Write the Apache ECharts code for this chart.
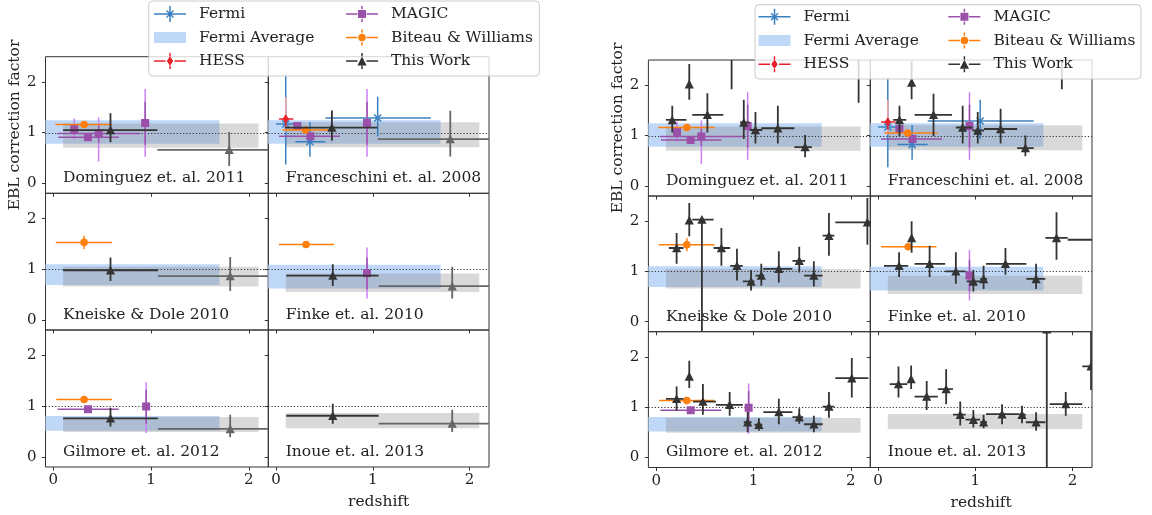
<!DOCTYPE html>
<html>
<head>
<meta charset="utf-8">
<script src="https://cdn.jsdelivr.net/npm/echarts@6/dist/echarts.min.js"></script>
<style>
html, body { margin: 0; padding: 0; background: #fff; }
#chart { width: 1152px; height: 515px; }
</style>
</head>
<body>
<div id="chart"></div>
<script>
const panelNames = ['Dominguez et. al. 2011', 'Franceschini et. al. 2008', 'Kneiske & Dole 2010',
  'Finke et. al. 2010', 'Gilmore et. al. 2012', 'Inoue et. al. 2013']

// shaded bands: [ylo, yhi] per panel, spanning the redshift ranges below
const fermiAvgZ = [-0.2, 1.70]
const fermiAvgBand = [[0.78, 1.245], [0.78, 1.245], [0.69, 1.10], [0.62, 1.09], [0.515, 0.805], null]
const thisWorkZ = [0.10, 2.10]
const thisWorkBand = [[0.70, 1.18], [0.71, 1.205], [0.66, 1.05], [0.55, 0.915], [0.49, 0.785], [0.565, 0.865]]

// points: [z, zlo, zhi, y, ylo, yhi] (MAGIC / HESS add the outer error [ylo2, yhi2])
const fermiPts = [[0.10, 0.0, 0.20, 1.17, 0.37, 2.15], [0.35, 0.20, 0.51, 0.82, 0.52, 1.21], [1.05, 0.51, 1.60, 1.29, 0.93, 1.71]]
const hessPts = [[0.10, 0.03, 0.18, 1.27, 1.12, 1.35, 1.02, 1.70]]
const magicPts = [
  [[0.214, 0.19, 0.24, 1.07, 0.96, 1.17, 0.87, 1.28], [0.354, 0.05, 0.67, 0.91, 0.88, 0.95, 0.86, 0.96],
    [0.464, 0.04, 0.89, 0.98, 0.80, 1.14, 0.43, 1.30], [0.94, 0.93, 0.95, 1.19, 0.76, 1.61, 0.52, 1.86]],
  [[0.22, 0.20, 0.24, 1.13, 1.08, 1.18, 1.06, 1.20], [0.355, 0.03, 0.66, 0.93, 0.89, 0.98, 0.88, 0.99],
    [0.94, 0.93, 0.95, 1.19, 0.76, 1.61, 0.52, 1.86]],
  [],
  [[0.94, 0.93, 0.95, 0.92, 0.60, 1.23, 0.42, 1.43]],
  [[0.355, 0.043, 0.67, 0.94, 0.91, 0.97, 0.90, 0.98], [0.95, 0.94, 0.96, 0.99, 0.65, 1.32, 0.47, 1.47]],
  []
]
const biteauPts = [
  [[0.315, 0.02, 0.60, 1.16, 1.13, 1.19]],
  [[0.305, 0.065, 0.61, 1.05, 1.02, 1.08]],
  [[0.315, 0.025, 0.60, 1.53, 1.40, 1.66]],
  [[0.31, 0.03, 0.60, 1.49, 1.46, 1.52]],
  [[0.315, 0.03, 0.60, 1.13, 1.10, 1.16]],
  []
]
// left figure: two wide redshift bins
const thisWorkWide = [
  [[0.585, 0.10, 1.065, 1.05, 0.81, 1.38], [1.80, 1.065, 2.60, 0.66, 0.34, 1.01]],
  [[0.577, 0.09, 1.05, 1.10, 0.84, 1.435], [1.80, 1.05, 2.60, 0.87, 0.525, 1.43]],
  [[0.585, 0.10, 1.07, 0.98, 0.77, 1.23], [1.81, 1.07, 2.60, 0.865, 0.57, 1.24]],
  [[0.586, 0.106, 1.06, 0.875, 0.67, 1.10], [1.82, 1.06, 2.60, 0.665, 0.42, 1.05]],
  [[0.585, 0.10, 1.07, 0.76, 0.60, 0.97], [1.81, 1.07, 2.60, 0.55, 0.385, 0.83]],
  [[0.586, 0.106, 1.06, 0.81, 0.65, 1.045], [1.82, 1.06, 2.60, 0.655, 0.49, 0.93]]
]
const thisWorkWideShades = ['#333333', '#666666']
// right figure: fine redshift bins
const thisWorkFine = [
  [[0.165, 0.10, 0.31, 1.31, 1.06, 1.59], [0.34, 0.33, 0.35, 2.02, 1.71, 2.42], [0.526, 0.37, 0.69, 1.41, 1.06, 1.84],
    [0.775, 0.76, 0.79, 2.90, 1.92, 3.50], [0.90, 0.86, 0.96, 1.26, 0.93, 1.71], [1.02, 0.96, 1.09, 1.11, 0.84, 1.47],
    [1.25, 1.08, 1.42, 1.145, 0.84, 1.59], [1.53, 1.42, 1.60, 0.77, 0.57, 1.01], [2.08, 2.05, 2.11, 2.70, 1.65, 3.20]],
  [[0.22, 0.155, 0.29, 1.31, 0.99, 1.59], [0.345, 0.33, 0.36, 2.05, 1.72, 2.47], [0.57, 0.375, 0.76, 1.41, 0.99, 1.83],
    [0.87, 0.80, 0.97, 1.16, 0.84, 1.59], [1.025, 0.97, 1.09, 1.10, 0.84, 1.47], [1.26, 1.09, 1.43, 1.13, 0.84, 1.53],
    [1.515, 1.43, 1.60, 0.75, 0.59, 1.00], [1.89, 1.85, 1.93, 2.70, 1.92, 3.20]],
  [[0.21, 0.13, 0.28, 1.465, 1.15, 1.765], [0.34, 0.33, 0.35, 2.015, 1.70, 2.36], [0.47, 0.37, 0.59, 2.03, -0.60, 2.05],
    [0.67, 0.59, 0.76, 1.465, 1.11, 1.865], [0.83, 0.76, 0.89, 1.11, 0.82, 1.45], [0.975, 0.89, 1.01, 0.80, 0.62, 1.03],
    [1.08, 1.02, 1.11, 0.915, 0.715, 1.15], [1.26, 1.10, 1.40, 1.05, 0.78, 1.40], [1.47, 1.40, 1.53, 1.21, 0.98, 1.49],
    [1.62, 1.52, 1.71, 0.915, 0.70, 1.20], [1.775, 1.71, 1.83, 1.71, 1.31, 2.16], [2.17, 1.84, 2.50, 1.975, 1.53, 2.46]],
  [[0.216, 0.06, 0.31, 1.11, 0.89, 1.38], [0.345, 0.33, 0.36, 1.665, 1.37, 2.00], [0.53, 0.375, 0.69, 1.15, 0.89, 1.51],
    [0.80, 0.69, 0.90, 1.00, 0.755, 1.38], [0.98, 0.91, 1.05, 0.80, 0.60, 1.03], [1.085, 1.05, 1.12, 0.85, 0.65, 1.11],
    [1.31, 1.11, 1.525, 1.15, 0.935, 1.465], [1.625, 1.525, 1.72, 0.85, 0.65, 1.15], [1.835, 1.72, 1.95, 1.665, 1.23, 2.175],
    [2.30, 1.95, 2.60, 1.63, 1.30, 2.00]],
  [[0.21, 0.10, 0.28, 1.165, 0.93, 1.41], [0.34, 0.33, 0.35, 1.61, 1.38, 1.92], [0.48, 0.378, 0.614, 1.11, 0.85, 1.46],
    [0.755, 0.614, 0.89, 1.045, 0.83, 1.30], [0.94, 0.90, 0.98, 0.70, 0.50, 0.91], [1.055, 1.01, 1.09, 0.65, 0.53, 0.78],
    [1.26, 1.10, 1.40, 0.90, 0.66, 1.165], [1.47, 1.40, 1.51, 0.80, 0.67, 0.98], [1.62, 1.52, 1.71, 0.66, 0.50, 0.83],
    [1.775, 1.71, 1.83, 1.01, 0.79, 1.30], [2.01, 1.84, 2.18, 1.575, 1.19, 1.975]],
  [[0.21, 0.12, 0.30, 1.457, 1.19, 1.81], [0.34, 0.32, 0.36, 1.56, 1.36, 1.83], [0.50, 0.375, 0.615, 1.21, 0.945, 1.52],
    [0.70, 0.615, 0.77, 1.36, 1.06, 1.755], [0.845, 0.77, 0.90, 0.85, 0.635, 1.11], [0.98, 0.90, 1.05, 0.75, 0.595, 0.945],
    [1.085, 1.05, 1.12, 0.70, 0.58, 0.85], [1.275, 1.11, 1.45, 0.86, 0.66, 1.06], [1.48, 1.45, 1.52, 0.85, 0.68, 1.03],
    [1.625, 1.52, 1.72, 0.70, 0.53, 0.90], [1.735, 1.71, 1.76, 2.55, -1.0, 6.0], [1.93, 1.765, 2.10, 1.06, 0.83, 1.30],
    [2.19, 2.10, 2.30, 1.81, 1.34, 2.60]]
]
const tickValues = [0, 1, 2]

const FONT = '"DejaVu Serif", serif'
const C = {
  fermi: '#3a80c0', fermiAvg: '#c0d8f8', hess: '#e8202a', hessOuter: '#f4a3a6',
  magic: '#9b50aa', magicOuter: '#cc80f8', biteau: '#ff7f0e', work: '#333333', band: 'rgba(128,128,128,0.3)'
}

// subplot layout: column edges and row edges of each figure
const colEdges = [[45.5, 268.3, 489], [648.4, 870.3, 1092]]
const rowEdges = [[56.7, 193.3, 330, 467], [60, 196, 331.7, 467.5]]

function clipOf(cs) {
  return { type: 'rect', shape: { x: cs.x, y: cs.y, width: cs.width, height: cs.height } }
}

function marker(kind, x, y, color) {
  if (kind === 'tri') {
    return { type: 'polygon', shape: { points: [[x, y - 4.6], [x + 4.6, y + 4.2], [x - 4.6, y + 4.2]] }, style: { fill: color } }
  }
  if (kind === 'square') {
    return { type: 'rect', shape: { x: x - 4, y: y - 4, width: 8, height: 8 }, style: { fill: color } }
  }
  if (kind === 'circle') {
    return { type: 'circle', shape: { cx: x, cy: y, r: 3.8 }, style: { fill: color } }
  }
  if (kind === 'diamond') {
    return { type: 'polygon', shape: { points: [[x, y - 4.8], [x + 3.2, y], [x, y + 4.8], [x - 3.2, y]] }, style: { fill: color } }
  }
  // 'x' shaped marker
  return {
    type: 'group',
    children: [
      { type: 'line', shape: { x1: x - 3.5, y1: y - 3.5, x2: x + 3.5, y2: y + 3.5 }, style: { stroke: color, lineWidth: 1.5 } },
      { type: 'line', shape: { x1: x - 3.5, y1: y + 3.5, x2: x + 3.5, y2: y - 3.5 }, style: { stroke: color, lineWidth: 1.5 } }
    ]
  }
}

function errSeries(name, g, pts, o) {
  return {
    type: 'custom',
    name: name,
    xAxisIndex: g,
    yAxisIndex: g,
    silent: true,
    itemStyle: { color: o.color },
    encode: { x: 0, y: 3 },
    data: pts,
    renderItem: function(params, api) {
      const v = i => api.value(i)
      const color = o.shades ? o.shades[params.dataIndex] : o.color
      const kids = []
      const seg = (a, b, stroke) => kids.push({
        type: 'line', shape: { x1: a[0], y1: a[1], x2: b[0], y2: b[1] }, style: { stroke: stroke, lineWidth: o.lw }
      })
      if (o.outer) seg(api.coord([v(0), v(6)]), api.coord([v(0), v(7)]), o.outer)
      seg(api.coord([v(1), v(3)]), api.coord([v(2), v(3)]), color)
      seg(api.coord([v(0), v(4)]), api.coord([v(0), v(5)]), color)
      const c = api.coord([v(0), v(3)])
      kids.push(marker(o.marker, c[0], c[1], color))
      return { type: 'group', children: kids, clipPath: clipOf(params.coordSys) }
    }
  }
}

function bandSeries(name, g, zr, band, fill) {
  return {
    type: 'custom',
    name: name,
    xAxisIndex: g,
    yAxisIndex: g,
    silent: true,
    itemStyle: { color: fill },
    encode: { x: [0, 1], y: [2, 3] },
    data: [[zr[0], zr[1], band[0], band[1]]],
    renderItem: function(params, api) {
      const a = api.coord([api.value(0), api.value(3)])
      const b = api.coord([api.value(1), api.value(2)])
      const cs = params.coordSys
      const r = echarts.graphic.clipRectByRect(
        { x: a[0], y: a[1], width: b[0] - a[0], height: b[1] - a[1] },
        { x: cs.x, y: cs.y, width: cs.width, height: cs.height })
      return r ? { type: 'rect', shape: r, style: { fill: fill } } : null
    }
  }
}

function refSeries(g) {
  return {
    type: 'custom',
    name: 'unity',
    xAxisIndex: g,
    yAxisIndex: g,
    silent: true,
    encode: { x: 0, y: 1 },
    data: [[0, 1]],
    renderItem: function(params, api) {
      const cs = params.coordSys
      const y = Math.round(api.coord([0, 1])[1]) + 0.5
      return {
        type: 'line',
        shape: { x1: cs.x, y1: y, x2: cs.x + cs.width, y2: y },
        style: { stroke: '#333', lineWidth: 1, lineDash: [1.2, 2] }
      }
    }
  }
}

function labelSeries(g, text) {
  return {
    type: 'custom',
    name: 'panel',
    xAxisIndex: g,
    yAxisIndex: g,
    silent: true,
    encode: { x: 0, y: 1 },
    data: [[0.1, 0.1]],
    renderItem: function(params, api) {
      const c = api.coord([0.1, 0.1])
      return {
        type: 'text',
        x: c[0],
        y: c[1],
        style: { text: text, fill: '#222', font: '15.5px ' + FONT, align: 'left', verticalAlign: 'middle' }
      }
    }
  }
}

const grids = []
const xAxes = []
const yAxes = []
const series = []

for (let fig = 0; fig < 2; fig++) {
  for (let p = 0; p < 6; p++) {
    const row = Math.floor(p / 2)
    const col = p % 2
    const g = fig * 6 + p
    const x0 = colEdges[fig][col]
    const x1 = colEdges[fig][col + 1]
    const y0 = rowEdges[fig][row]
    const y1 = rowEdges[fig][row + 1]
    grids.push({
      left: x0, top: y0, width: x1 - x0, height: y1 - y0,
      show: true, borderColor: '#333', borderWidth: 1, backgroundColor: 'transparent'
    })
    const isBottom = row === 2
    xAxes.push({
      gridIndex: g,
      type: 'value',
      min: -0.08,
      max: 2.2,
      axisLine: { show: false, onZero: false },
      axisTick: { show: true, customValues: tickValues, length: 3.5, lineStyle: { color: '#333' } },
      axisLabel: { show: isBottom, customValues: tickValues, margin: 6, color: '#222', fontFamily: FONT, fontSize: 15 },
      splitLine: { show: false },
      name: isBottom && col === 1 ? 'redshift' : '',
      nameLocation: 'middle',
      nameGap: 27,
      nameTextStyle: { color: '#222', fontFamily: FONT, fontSize: 15.5 }
    })
    yAxes.push({
      gridIndex: g,
      type: 'value',
      min: -0.2,
      max: 2.5,
      axisLine: { show: false, onZero: false },
      axisTick: { show: true, customValues: tickValues, length: 3.5, lineStyle: { color: '#333' } },
      axisLabel: { show: col === 0, customValues: tickValues, margin: 9, color: '#222', fontFamily: FONT, fontSize: 15 },
      splitLine: { show: false },
      name: p === 0 ? 'EBL correction factor' : '',
      nameLocation: 'middle',
      nameRotate: 90,
      nameGap: fig === 0 ? 22 : 19,
      nameTextStyle: { color: '#222', fontFamily: FONT, fontSize: 15.5 }
    })

    if (fermiAvgBand[p]) series.push(bandSeries('Fermi Average', g, fermiAvgZ, fermiAvgBand[p], C.fermiAvg))
    series.push(bandSeries('This Work band', g, thisWorkZ, thisWorkBand[p], C.band))
    series.push(refSeries(g))
    if (p === 1) {
      series.push(errSeries('Fermi', g, fermiPts, { color: C.fermi, marker: 'x', lw: 1.5 }))
      series.push(errSeries('HESS', g, hessPts, { color: C.hess, outer: C.hessOuter, marker: 'diamond', lw: 1.5 }))
    }
    if (magicPts[p].length) {
      series.push(errSeries('MAGIC', g, magicPts[p], { color: C.magic, outer: C.magicOuter, marker: 'square', lw: 1.5 }))
    }
    if (biteauPts[p].length) {
      series.push(errSeries('Biteau & Williams', g, biteauPts[p], { color: C.biteau, marker: 'circle', lw: 1.5 }))
    }
    if (fig === 0) {
      series.push(errSeries('This Work', g, thisWorkWide[p], { color: C.work, shades: thisWorkWideShades, marker: 'tri', lw: 1.8 }))
    } else {
      series.push(errSeries('This Work', g, thisWorkFine[p], { color: C.work, marker: 'tri', lw: 1.8 }))
    }
    series.push(labelSeries(g, panelNames[p]))
  }
}

// legend handles, drawn in a 32 x 16 box
const bars = 'M0 7.25H11.5V8.75H0Z M20.5 7.25H32V8.75H20.5Z M15.25 0H16.75V3.2H15.25Z M15.25 12.8H16.75V16H15.25Z '
const icons = {
  'Fermi': 'path://M0 7.25H32V8.75H0Z M15.25 0H16.75V16H15.25Z M13 4L20 11L19 12L12 5Z M19 4L20 5L13 12L12 11Z',
  'Fermi Average': 'path://M0 2.5H32V13.5H0Z',
  'HESS': 'path://' + bars + 'M16 3.2L19.2 8L16 12.8L12.8 8Z',
  'MAGIC': 'path://' + bars + 'M12 4H20V12H12Z',
  'Biteau & Williams': 'path://' + bars + 'M19.8 8A3.8 3.8 0 1 1 12.2 8A3.8 3.8 0 1 1 19.8 8Z',
  'This Work': 'path://' + bars + 'M16 3.4L20.6 12.4H11.4Z'
}
const legendCols = [['Fermi', 'Fermi Average', 'HESS'], ['MAGIC', 'Biteau & Williams', 'This Work']]
const legendSpots = [
  { lefts: [154, 346], top: 6, gap: 7.5 },
  { lefts: [758.5, 948.4], top: 8.7, gap: 7.8 }
]
const legends = []
legendSpots.forEach(function(spot) {
  legendCols.forEach(function(names, k) {
    legends.push({
      orient: 'vertical',
      left: spot.lefts[k],
      top: spot.top,
      padding: 0,
      itemWidth: 32,
      itemHeight: 16,
      itemGap: spot.gap,
      selectedMode: false,
      itemStyle: { borderWidth: 0 },
      textStyle: { color: '#222', fontFamily: FONT, fontSize: 15.5, padding: [0, 0, 0, 8] },
      data: names.map(n => ({ name: n, icon: icons[n] })),
      z: 5
    })
  })
})

const chart = echarts.init(document.getElementById('chart'), null, { renderer: 'canvas' })
chart.setOption({
  animation: false,
  backgroundColor: '#fff',
  grid: grids,
  xAxis: xAxes,
  yAxis: yAxes,
  legend: legends,
  graphic: [
    {
      type: 'rect', z: 4,
      shape: { x: 148.7, y: 1, width: 390.7, height: 75, r: 4 },
      style: { fill: 'rgba(255,255,255,0.8)', stroke: '#cccccc', lineWidth: 1 }
    },
    {
      type: 'rect', z: 4,
      shape: { x: 755, y: 4.7, width: 386, height: 74.3, r: 4 },
      style: { fill: 'rgba(255,255,255,0.8)', stroke: '#cccccc', lineWidth: 1 }
    }
  ],
  series: series
})
</script>
</body>
</html>
